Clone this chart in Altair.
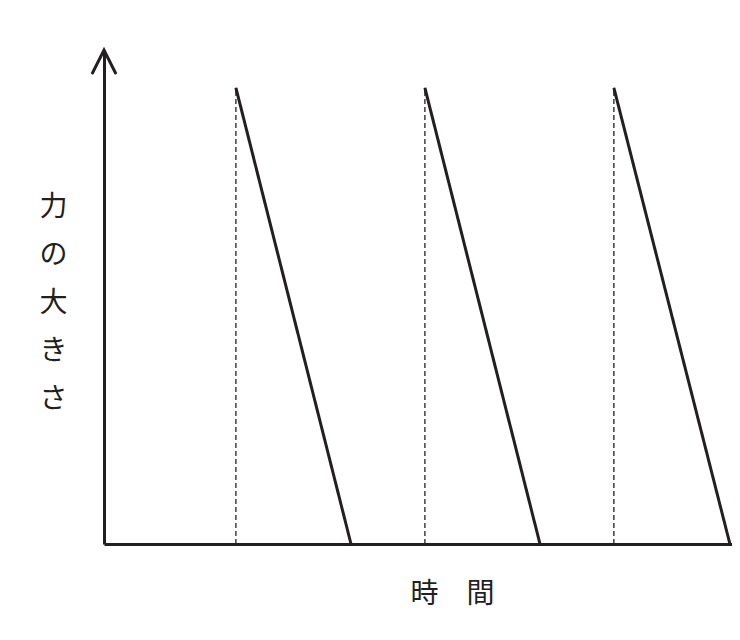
import altair as alt
import pandas as pd

# Sawtooth force pulses (time units: arbitrary, force units: arbitrary)
peak_times = [6.98, 16.98, 26.98]
end_times = [13.07, 23.07, 33.12]
peak_force = [10.0, 10.0, 10.0]
x_max = 33.23
y_max = 10.83

y_title = ["力", "の", "大", "き", "さ"]
x_title = "時\u3000間"

ink = "#231f20"

rows = []
for i, (tp, te, f) in enumerate(zip(peak_times, end_times, peak_force)):
    rows.append({"tooth": i, "t": tp, "f": f})
    rows.append({"tooth": i, "t": te, "f": 0.0})
teeth = pd.DataFrame(rows)

dashes = pd.DataFrame({"t": peak_times, "f": peak_force, "f0": [0.0] * len(peak_times)})
arrow = pd.DataFrame({"t": [0.0], "f": [y_max]})

xs = alt.Scale(domain=[0, x_max], nice=False, zero=False)
ys = alt.Scale(domain=[0, y_max], nice=False, zero=False)

x_axis = alt.Axis(title=x_title, titleFontSize=28, titleFont="Noto Sans CJK JP",
                  titleFontWeight="normal", titleColor=ink,
                  titleX=348, titleY=50, titleBaseline="middle", titleAnchor="middle")
y_axis = alt.Axis(title=y_title, titleFontSize=28, titleFont="Noto Sans CJK JP",
                  titleFontWeight="normal", titleColor=ink, titleAngle=0,
                  titleLineHeight=48, titleX=-51, titleY=157, titleBaseline="middle",
                  titleAlign="center")

dash_layer = alt.Chart(dashes).mark_rule(color=ink, strokeWidth=1.3, strokeDash=[5, 3]).encode(
    x=alt.X("t:Q", scale=xs, axis=x_axis),
    y=alt.Y("f0:Q", scale=ys, axis=y_axis),
    y2="f:Q",
)

line_layer = alt.Chart(teeth).mark_line(color=ink, strokeWidth=3).encode(
    x=alt.X("t:Q", scale=xs),
    y=alt.Y("f:Q", scale=ys),
    detail="tooth:N",
)

arrow_layer = alt.Chart(arrow).mark_point(
    shape="M-1,2L0,0L1,2", filled=False, strokeWidth=3, size=529,
    color=ink, opacity=1, clip=False, strokeJoin="miter", strokeCap="round",
).encode(
    x=alt.X("t:Q", scale=xs),
    y=alt.Y("f:Q", scale=ys),
)

chart = alt.layer(dash_layer, line_layer, arrow_layer).properties(
    width=628, height=494,
    autosize=alt.AutoSizeParams(type="none"),
    padding={"left": 96, "top": 42, "right": 0, "bottom": 88},
    background="white",
).configure_view(stroke=None).configure_axis(
    domainColor=ink, domainWidth=3, ticks=False, labels=False, grid=False,
)

chart.save("out.html", embed_options={"renderer": "svg", "actions": False})
